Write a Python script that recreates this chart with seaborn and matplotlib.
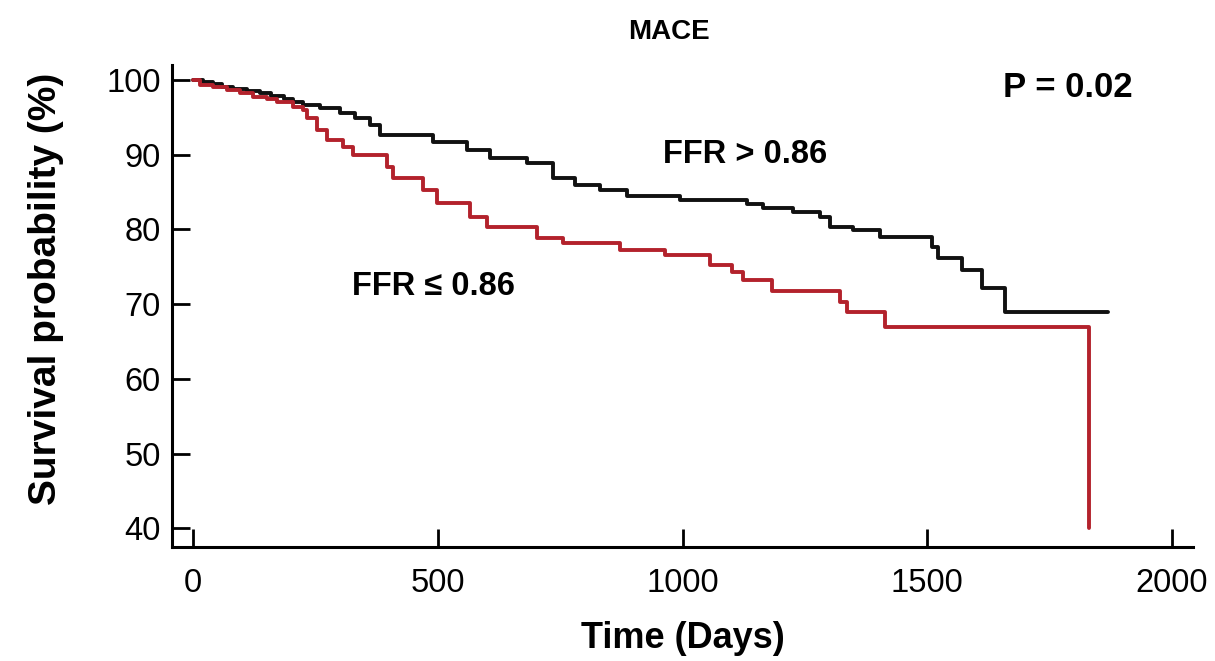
import matplotlib
matplotlib.use("Agg")
import matplotlib.pyplot as plt
import seaborn as sns
import pandas as pd

# Kaplan-Meier estimates for MACE-free survival (%), by FFR group
days_high = [0, 20, 40, 60, 82, 110, 137, 160, 185, 204, 225, 260, 300, 330,
             362, 382, 490, 560, 607, 682, 735, 780, 831, 887, 995, 1132, 1164,
             1226, 1281, 1301, 1348, 1403, 1510, 1522, 1571, 1612, 1659, 1869]
surv_high = [100, 99.7, 99.4, 99.1, 98.8, 98.5, 98.3, 97.9, 97.5, 97.1, 96.7,
             96.2, 95.6, 94.9, 94.0, 92.6, 91.7, 90.6, 89.6, 88.9, 86.9, 86.0,
             85.3, 84.4, 83.9, 83.4, 82.9, 82.3, 81.6, 80.3, 79.9, 79.0, 77.6,
             76.2, 74.6, 72.2, 68.9, 68.9]

days_low = [0, 14, 40, 69, 95, 122, 150, 171, 204, 225, 233, 253, 274, 306,
            327, 396, 409, 470, 498, 566, 601, 703, 756, 872, 964, 1056, 1101,
            1124, 1183, 1322, 1336, 1414, 1830]
surv_low = [100, 99.3, 99.0, 98.7, 98.2, 97.7, 97.4, 97.1, 96.4, 96.0, 94.9,
            93.3, 92.0, 91.0, 90.0, 88.4, 86.9, 85.3, 83.5, 81.7, 80.3, 78.8,
            78.2, 77.2, 76.6, 75.2, 74.3, 73.2, 71.8, 70.3, 68.9, 66.9, 40.0]

group_labels = ["FFR > 0.86", "FFR \u2264 0.86"]
line_colors = ["#111111", "#b3222c"]
x_ticks = [0, 500, 1000, 1500, 2000]
y_ticks = [40, 50, 60, 70, 80, 90, 100]
p_text = "P = 0.02"

sns.set_theme(style="ticks")
plt.rcParams["font.family"] = ["Liberation Sans", "DejaVu Sans"]
plt.rcParams["text.color"] = "black"

fig = plt.figure(figsize=(12.15, 6.61), dpi=100)
ax = fig.add_axes([0.1416, 0.1725, 0.8403, 0.7292])

df_high = pd.DataFrame({"t": days_high, "s": surv_high})
df_low = pd.DataFrame({"t": days_low, "s": surv_low})

sns.lineplot(data=df_high, x="t", y="s", ax=ax, color=line_colors[0],
             drawstyle="steps-post", estimator=None, sort=False, lw=2.8)
sns.lineplot(data=df_low, x="t", y="s", ax=ax, color=line_colors[1],
             drawstyle="steps-post", estimator=None, sort=False, lw=2.8)

ax.set_xlim(-43, 2043)
ax.set_ylim(37.5, 102)
ax.set_xticks(x_ticks)
ax.set_yticks(y_ticks)
ax.tick_params(direction="in", length=13, width=2, labelsize=23.5,
               colors="black", labelcolor="black")
ax.tick_params(axis="y", pad=8)
ax.tick_params(axis="x", pad=15)
for side in ["top", "right"]:
    ax.spines[side].set_visible(False)
for side in ["left", "bottom"]:
    ax.spines[side].set_linewidth(2.2)
    ax.spines[side].set_color("black")

ax.set_xlabel("Time (Days)", fontsize=26, fontweight="bold", color="black")
ax.set_ylabel("Survival probability (%)", fontsize=28, fontweight="bold", color="black")
ax.xaxis.set_label_coords(0.5, -0.154)
ax.yaxis.set_label_coords(-0.106, 0.535)
ax.set_title("MACE", fontsize=20, fontweight="bold", pad=19, x=0.487, color="black")

ax.text(1655, 99, p_text, fontsize=25, fontweight="bold", va="center", ha="left")
ax.text(960, 90, group_labels[0], fontsize=23.5, fontweight="bold", va="center", ha="left")
ax.text(325, 72.3, group_labels[1], fontsize=23.5, fontweight="bold", va="center", ha="left")

fig.savefig("out.png", dpi=100)
